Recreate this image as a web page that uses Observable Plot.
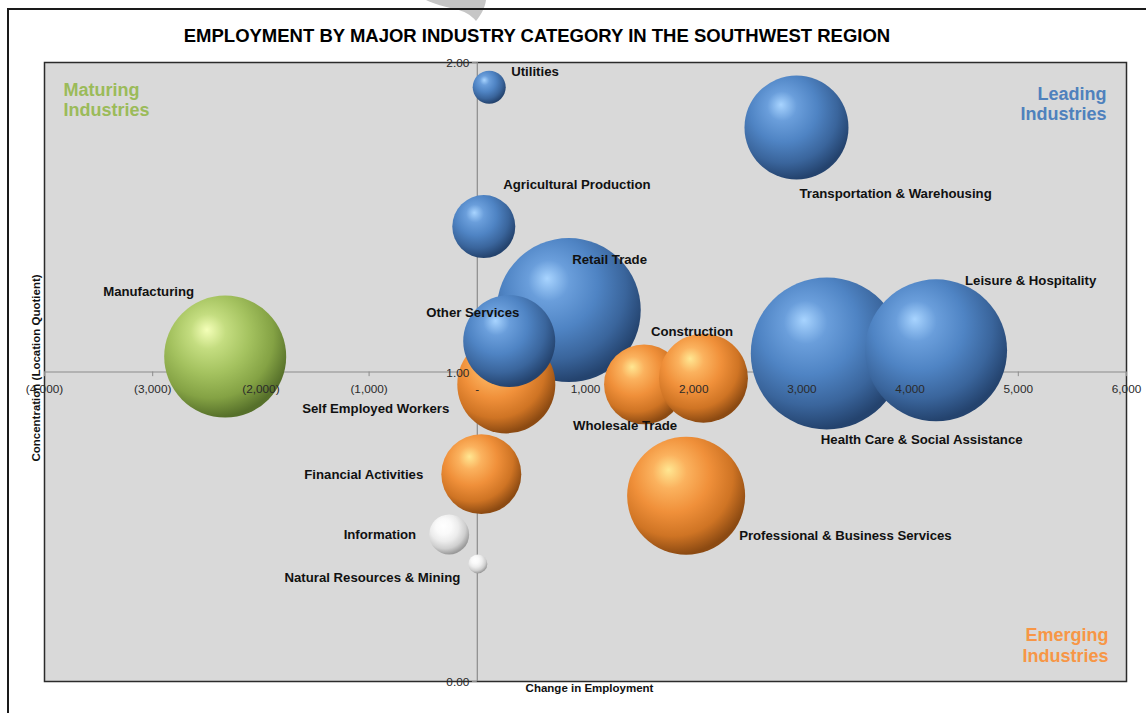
<!DOCTYPE html>
<html><head><meta charset="utf-8">
<script src="https://cdn.jsdelivr.net/npm/d3@7"></script>
<script src="https://cdn.jsdelivr.net/npm/@observablehq/plot@0.6"></script>
<style>
html,body{margin:0;padding:0;background:#fff;width:1146px;height:713px;overflow:hidden;font-family:"Liberation Sans",Arial,sans-serif;}
#frame{position:absolute;left:7px;top:8px;width:1160px;height:720px;border:2px solid #1a1a1a;box-sizing:border-box;}
#title{position:absolute;left:0;width:1074px;top:25px;text-align:center;font-weight:bold;font-size:18.5px;line-height:22px;color:#000;}
#chart{position:absolute;left:0;top:50px;}
#mark{position:absolute;left:0;top:0;}
</style></head>
<body>
<svg id="mark" width="1146" height="30"><path d="M426,0 L486,0 C485,8 481,15 476,21 C471,15 464,11 455,9 C445,7 434,4 426,0 Z" fill="#c6c6c6"/></svg>
<div id="frame"></div>
<div id="title">EMPLOYMENT BY MAJOR INDUSTRY CATEGORY IN THE SOUTHWEST REGION</div>
<div id="chart"></div>
<script>
// ---- data ----
const industries = ["Health Care & Social Assistance","Leisure & Hospitality","Retail Trade","Transportation & Warehousing","Utilities","Agricultural Production","Manufacturing","Self Employed Workers","Other Services","Wholesale Trade","Construction","Financial Activities","Professional & Business Services","Information","Natural Resources & Mining"];
const employmentChange = [3230, 4240, 845, 2950, 110, 60, -2330, 268, 295, 1541, 2090, 37, 1930, -260, 5];
const locationQuotient = [1.06, 1.07, 1.20, 1.79, 1.92, 1.47, 1.05, 0.96, 1.10, 0.96, 0.98, 0.67, 0.60, 0.475, 0.38];
const employment = [22000, 19200, 19750, 10300, 1040, 3780, 14170, 9150, 8060, 6090, 7540, 6090, 13260, 1520, 344];
const category = ["leading","leading","leading","leading","leading","leading","maturing","emerging","leading","emerging","emerging","emerging","emerging","other","other"];

const xTicks = [-4000,-3000,-2000,-1000,0,1000,2000,3000,4000,5000,6000];
const xTickLabels = ["(4,000)","(3,000)","(2,000)","(1,000)","-","1,000","2,000","3,000","4,000","5,000","6,000"];
const yTicks = [0, 1, 2];
const yTickLabels = ["0.00","1.00","2.00"];
const quadrantLabels = ["Maturing\nIndustries","Leading\nIndustries","Emerging\nIndustries"];

const rows = industries.map((name, i) => ({
  name, change: employmentChange[i], lq: locationQuotient[i], employment: employment[i], category: category[i]
}));

// ---- layout / style (not data) ----
const gradFor = {leading: "url(#gBlue)", emerging: "url(#gOrange)", maturing: "url(#gGreen)", other: "url(#gWhite)"};
const labelLayout = [
  {name: "Utilities", dx: 22, dy: -15.5, anchor: "start"},
  {name: "Transportation & Warehousing", dx: 3, dy: 66.5, anchor: "start"},
  {name: "Agricultural Production", dx: 19.5, dy: -41.5, anchor: "start"},
  {name: "Retail Trade", dx: 3.5, dy: -50, anchor: "start"},
  {name: "Other Services", dx: -83, dy: -28, anchor: "start"},
  {name: "Self Employed Workers", dx: -57, dy: 24, anchor: "end"},
  {name: "Wholesale Trade", dx: -71, dy: 41.5, anchor: "start"},
  {name: "Construction", dx: -52.5, dy: -46.5, anchor: "start"},
  {name: "Health Care & Social Assistance", dx: -6, dy: 86.5, anchor: "start"},
  {name: "Leisure & Hospitality", dx: 29, dy: -70, anchor: "start"},
  {name: "Manufacturing", dx: -122, dy: -65, anchor: "start"},
  {name: "Financial Activities", dx: -58, dy: 1, anchor: "end"},
  {name: "Information", dx: -33, dy: 0, anchor: "end"},
  {name: "Natural Resources & Mining", dx: -17.5, dy: 14, anchor: "end"},
  {name: "Professional & Business Services", dx: 53, dy: 40, anchor: "start"}
];

const labelMarks = labelLayout.map(L => Plot.text(rows.filter(d => d.name === L.name), {
  x: "change", y: "lq", text: "name", dx: L.dx, dy: L.dy, textAnchor: L.anchor,
  fontSize: 13.2, fontWeight: "bold", fill: "#111"
}));

const chart = Plot.plot({
  width: 1146, height: 663,
  marginTop: 12, marginBottom: 32, marginLeft: 44, marginRight: 20,
  x: {domain: [-4000, 6000], axis: null},
  y: {domain: [0, 2], axis: null},
  r: {type: "sqrt", domain: [0, 22000], range: [0, 76]},
  color: {type: "identity"},
  style: {fontFamily: "'Liberation Sans', Arial, sans-serif", background: "transparent", overflow: "visible"},
  marks: [
    Plot.frame({fill: "#d9d9d9", stroke: "#2b2b2b", strokeWidth: 1.5}),
    Plot.ruleY([1], {stroke: "#8c8c8c", strokeWidth: 1.2}),
    Plot.ruleX([0], {stroke: "#8c8c8c", strokeWidth: 1.2}),
    Plot.ruleX(xTicks, {x: d => d, y1: () => 1, y2: () => 0.985, stroke: "#8c8c8c"}),
    Plot.ruleY(yTicks, {y: d => d, x1: () => 0, x2: () => -45, stroke: "#8c8c8c"}),
    Plot.text([quadrantLabels[0]], {frameAnchor: "top-left", dx: 19, dy: 19.5, lineAnchor: "top", textAnchor: "start", lineHeight: 1.11, fontSize: 18, fontWeight: "bold", fill: "#9bbb59"}),
    Plot.text([quadrantLabels[1]], {frameAnchor: "top-right", dx: -20, dy: 23.5, lineAnchor: "top", textAnchor: "end", lineHeight: 1.11, fontSize: 18, fontWeight: "bold", fill: "#4f81bd"}),
    Plot.text([quadrantLabels[2]], {frameAnchor: "bottom-right", dx: -18, dy: -19.7, lineAnchor: "bottom", textAnchor: "end", lineHeight: 1.16, fontSize: 18, fontWeight: "bold", fill: "#f79646"}),
    Plot.dot(rows, {x: "change", y: "lq", r: "employment", fill: d => gradFor[d.category], sort: null, stroke: "none"}),
    Plot.text(xTicks, {x: d => d, y: () => 1, text: (d, i) => xTickLabels[i], dy: 17, fontSize: 11.8, fill: "#2a2a2a"}),
    Plot.text(yTicks, {x: () => 0, y: d => d, text: (d, i) => yTickLabels[i], dx: -8, dy: 1, textAnchor: "end", fontSize: 11.8, fill: "#2a2a2a"}),
    ...labelMarks,
    Plot.text(["Concentration (Location Quotient)"], {frameAnchor: "left", dx: -8, dy: -4, rotate: -90, textAnchor: "middle", fontSize: 11.5, fontWeight: "bold", fill: "#111"}),
    Plot.text(["Change in Employment"], {frameAnchor: "bottom", dx: 4, dy: 10, textAnchor: "middle", fontSize: 11.5, fontWeight: "bold", fill: "#111"})
  ]
});

const defs = d3.select(chart).insert("defs", ":first-child");
const grads = {
  gBlue: [["0%","#a8d4ff"],["22%","#6a9edb"],["50%","#4f84c4"],["78%","#3a659c"],["100%","#24436e"]],
  gOrange: [["0%","#ffe792"],["22%","#fbb25e"],["50%","#f0903a"],["78%","#cf7424"],["100%","#8c4a12"]],
  gGreen: [["0%","#f4ffb8"],["22%","#c4dd80"],["50%","#a4c25f"],["78%","#84a244"],["100%","#56702a"]],
  gWhite: [["0%","#ffffff"],["30%","#fafafa"],["55%","#ececec"],["80%","#cfcfcf"],["100%","#9a9a9a"]]
};
for (const [id, stops] of Object.entries(grads)) {
  const g = defs.append("radialGradient").attr("id", id)
    .attr("cx", "40%").attr("cy", "35%").attr("r", "65%").attr("fx", "35%").attr("fy", "28%");
  for (const [o, c] of stops) g.append("stop").attr("offset", o).attr("stop-color", c);
}
document.getElementById("chart").appendChild(chart);
</script>
</body></html>
